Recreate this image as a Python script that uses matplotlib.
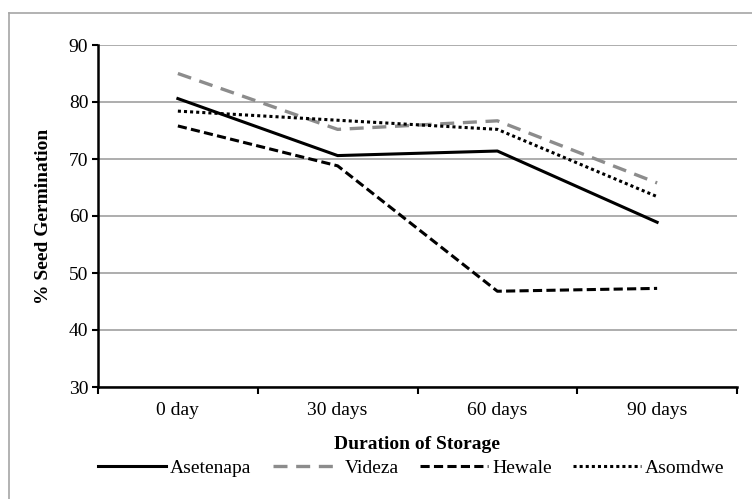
import matplotlib
matplotlib.use("Agg")
import matplotlib.pyplot as plt
from matplotlib.lines import Line2D

# data
durations = ["0 day", "30 days", "60 days", "90 days"]
asetenapa = [80.6, 70.6, 71.4, 58.9]
videza = [85.0, 75.2, 76.7, 65.8]
hewale = [75.8, 68.8, 46.8, 47.3]
asomdwe = [78.4, 76.8, 75.2, 63.4]

plt.rcParams["font.family"] = ["Liberation Serif", "DejaVu Serif"]
FS = 14

fig = plt.figure(figsize=(7.52, 4.99), dpi=100)
ax = fig.add_axes([98 / 752, 1 - 387 / 499, 639 / 752, 342 / 499])

# outer chart frame (only top and left edges fall inside the crop)
fig.add_artist(Line2D([9 / 752, 1.0], [1 - 13 / 499] * 2, color="#a6a6a6", lw=1.2,
                      transform=fig.transFigure))
fig.add_artist(Line2D([9 / 752] * 2, [0.0, 1 - 13 / 499], color="#a6a6a6", lw=1.2,
                      transform=fig.transFigure))

x = list(range(len(durations)))
ax.plot(x, asetenapa, color="black", lw=2.2, label="Asetenapa")
ax.plot(x, videza, color="#8c8c8c", lw=2.4, dashes=(4.2, 2.6), label="Videza")
ax.plot(x, hewale, color="black", lw=2.2, dashes=(3, 1.4), label="Hewale")
ax.plot(x, asomdwe, color="black", lw=2.2, dashes=(1, 1), label="Asomdwe")

ax.set_xlim(-0.5, 3.5)
ax.set_ylim(30, 90)
ax.set_yticks(range(30, 91, 10))
ax.yaxis.grid(True, color="#a0a0a0", lw=1.2)
ax.set_axisbelow(True)

ax.set_xticks([-0.5, 0.5, 1.5, 2.5, 3.5])
ax.set_xticklabels([])
ax.set_xticks(x, minor=True)
ax.set_xticklabels(durations, minor=True, fontsize=FS)
ax.tick_params(axis="x", which="minor", length=0, pad=11)
ax.tick_params(axis="x", which="major", length=5, width=1.5, direction="out")
ax.tick_params(axis="y", length=4, width=1.5, labelsize=FS, pad=3)

for side in ["top", "right"]:
    ax.spines[side].set_visible(False)
for side in ["left", "bottom"]:
    ax.spines[side].set_linewidth(1.8)

ax.set_xlabel("Duration of Storage", fontsize=FS, fontweight="bold", labelpad=12)
ax.set_ylabel("% Seed Germination", fontsize=FS, fontweight="bold", labelpad=12)

fig.legend(loc="center", bbox_to_anchor=(0.547, 1 - 468 / 499), ncol=4, frameon=False,
           fontsize=FS, handlelength=3.5, handletextpad=0.2, columnspacing=1.1)

fig.savefig("out.png", dpi=100)
